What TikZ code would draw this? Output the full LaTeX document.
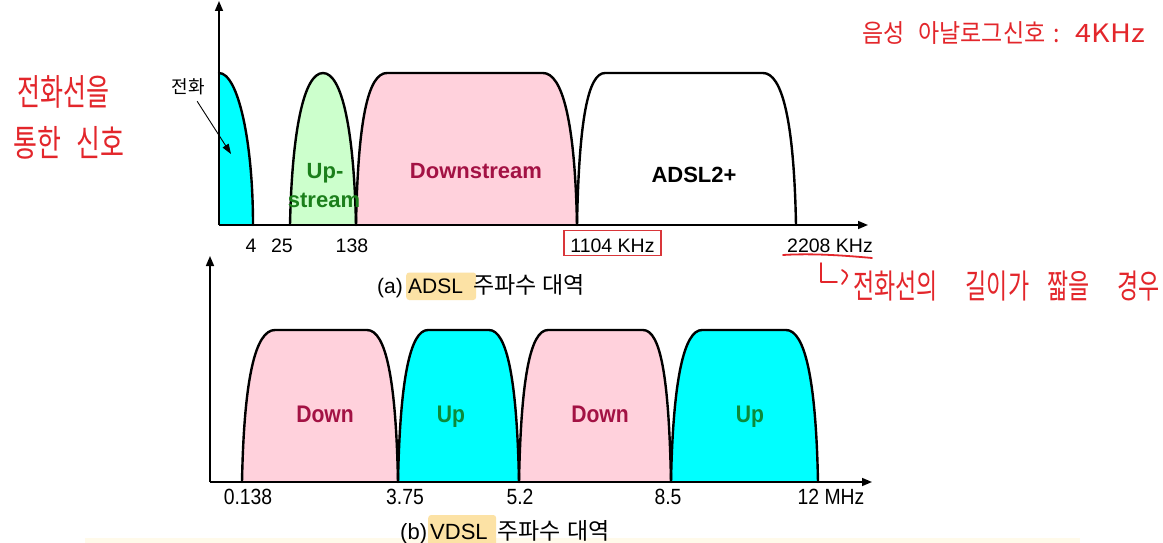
\documentclass[tikz,border=0pt]{standalone}
\usepackage{fontspec}
\setmainfont{Liberation Sans}
\newfontfamily\kr{Noto Sans CJK KR}
\newfontfamily\narrow[FakeStretch=0.88]{Liberation Sans}
\usetikzlibrary{arrows.meta}
\definecolor{cyanf}{HTML}{00FFFF}
\definecolor{greenf}{HTML}{CCFFCC}
\definecolor{pinkf}{HTML}{FFD1DC}
\definecolor{downc}{HTML}{A31244}
\definecolor{upc}{HTML}{1B7F1B}
\definecolor{upcb}{HTML}{0C8A3A}
\definecolor{hl}{HTML}{FCE2A5}
\definecolor{boxred}{HTML}{D9363A}
\definecolor{pen}{HTML}{E3262B}
\definecolor{paleband}{HTML}{FFFAEA}
\begin{document}
\begin{tikzpicture}[x=1pt,y=-1pt,
  axis/.style={line width=1.6pt,-{Triangle[length=10pt,width=8pt]}},
  bandline/.style={line width=2.4pt,line join=round,line cap=round},
  toplbl/.style={font=\fontsize{19.5}{21}\selectfont,inner sep=0pt,anchor=base},
  botlbl/.style={font=\narrow\fontsize{22}{24}\selectfont,inner sep=0pt,anchor=base},
  downtxt/.style={font=\bfseries\fontsize{22}{24}\selectfont,text=downc,inner sep=0pt,anchor=base},
  uptxt/.style={font=\bfseries\fontsize{22}{24}\selectfont,text=upc,inner sep=0pt,anchor=base},
  bdowntxt/.style={font=\narrow\bfseries\fontsize{24}{26}\selectfont,text=downc,inner sep=0pt,anchor=base},
  buptxt/.style={font=\narrow\bfseries\fontsize{24}{26}\selectfont,text=upcb,inner sep=0pt,anchor=base},
  captxt/.style={font=\fontsize{21}{23}\selectfont,inner sep=0pt,anchor=base west},
  capkr/.style={font=\kr\fontsize{23}{25}\selectfont,inner sep=0pt,anchor=base west},
  hlbox/.style={fill=hl,rounded corners=3pt,inner xsep=2pt,inner ysep=0pt,anchor=base west},
  pentxt/.style={text=pen,inner sep=0pt},
  penline/.style={draw=pen,line width=1.8pt,line cap=round,line join=round}
]
\useasboundingbox (0,0) rectangle (1163,543);
\fill[white] (0,0) rectangle (1163,543);
\fill[paleband] (85,538) rectangle (1080,543);

% ---------- (a) ADSL ----------
\coordinate (oA) at (219,225);
\coordinate (yA) at (219,1);
\coordinate (xA) at (868,225);

\fill[cyanf] (219,225) -- (219,73) .. controls (238,73) and (253,141) .. (253,225) -- cycle;
\fill[greenf] (290,225) .. controls (292,130) and (304,73) .. (323,73) .. controls (342,73) and (354,130) .. (356,225) -- cycle;
\fill[pinkf] (356,225) .. controls (358,120) and (368,73) .. (387,73) -- (543,73) .. controls (562,73) and (575,120) .. (577,225) -- cycle;
\fill[white] (577,225) .. controls (579,120) and (588,73) .. (605,73) -- (763,73) .. controls (782,73) and (794,120) .. (796,225) -- cycle;

\draw[bandline] (219,73) .. controls (238,73) and (253,141) .. (253,225);
\draw[bandline] (290,225) .. controls (292,130) and (304,73) .. (323,73) .. controls (342,73) and (354,130) .. (356,225);
\draw[bandline] (356,225) .. controls (358,120) and (368,73) .. (387,73) -- (543,73) .. controls (562,73) and (575,120) .. (577,225);
\draw[bandline] (577,225) .. controls (579,120) and (588,73) .. (605,73) -- (763,73) .. controls (782,73) and (794,120) .. (796,225);

\draw[axis] (oA) -- (yA);
\draw[axis] (oA) -- (xA);

\node[uptxt] (ups1) at (325,178) {Up-};
\node[uptxt] (ups2) at (324,207) {stream};
\node[downtxt] (dstr) at (476,178) {Downstream};
\node[font=\bfseries\fontsize{22}{24}\selectfont,inner sep=0pt,anchor=base] (adsl2) at (694,182) {ADSL2+};

\node[font=\kr\fontsize{18}{20}\selectfont,inner sep=0pt] (tel) at (188,87) {전화};
\coordinate (telpt) at (231,154);
\draw[line width=0.9pt,-{Triangle[length=10pt,width=7pt]},shorten <=7pt] (tel) -- (telpt);

\node[toplbl] (f4) at (251,252) {4};
\node[toplbl] (f25) at (282,252) {25};
\node[toplbl] (f138) at (352,252) {138};
\node[toplbl] (f1104) at (612.5,252) {1104 KHz};
\node[draw=boxred,line width=1.7pt,minimum width=97pt,minimum height=25pt,inner sep=0pt] (box1104) at (612.5,243) {};
\node[toplbl] (f2208) at (830,252) {2208 KHz};

\node[captxt] (capa) at (377,293.5) {(a)};
\node[hlbox,text height=21pt,text depth=6.5pt,font=\fontsize{21}{23}\selectfont] (capahl) at (406,293.5) {\makebox[66pt][l]{ADSL}};
\node[capkr] (capak) at (473,293.5) {주파수\kern6pt 대역};

% ---------- (b) VDSL ----------
\coordinate (oB) at (210,482);
\coordinate (yB) at (210,256);
\coordinate (xB) at (872,482);

\fill[pinkf] (242,482) .. controls (244,380) and (255,330) .. (275,330) -- (367,330) .. controls (386,330) and (396,380) .. (398,482) -- cycle;
\fill[cyanf] (398,482) .. controls (400,380) and (410,330) .. (428,330) -- (489,330) .. controls (507,330) and (517,380) .. (519,482) -- cycle;
\fill[pinkf] (519,482) .. controls (521,380) and (530,330) .. (548,330) -- (643,330) .. controls (661,330) and (669,380) .. (671,482) -- cycle;
\fill[cyanf] (671,482) .. controls (673,380) and (684,330) .. (702,330) -- (786,330) .. controls (805,330) and (816,380) .. (818,482) -- cycle;

\draw[bandline] (242,482) .. controls (244,380) and (255,330) .. (275,330) -- (367,330) .. controls (386,330) and (396,380) .. (398,482);
\draw[bandline] (398,482) .. controls (400,380) and (410,330) .. (428,330) -- (489,330) .. controls (507,330) and (517,380) .. (519,482);
\draw[bandline] (519,482) .. controls (521,380) and (530,330) .. (548,330) -- (643,330) .. controls (661,330) and (669,380) .. (671,482);
\draw[bandline] (671,482) .. controls (673,380) and (684,330) .. (702,330) -- (786,330) .. controls (805,330) and (816,380) .. (818,482);

\draw[axis] (oB) -- (yB);
\draw[axis] (oB) -- (xB);

\node[bdowntxt] (d1) at (325,422) {Down};
\node[buptxt] (u1) at (451,422) {Up};
\node[bdowntxt] (d2) at (600,422) {Down};
\node[buptxt] (u2) at (750,422) {Up};

\node[botlbl] (g0) at (248,504) {0.138};
\node[botlbl] (g1) at (405,504) {3.75};
\node[botlbl] (g2) at (520,504) {5.2};
\node[botlbl] (g3) at (668,504) {8.5};
\node[botlbl] (g4) at (831,504) {12 MHz};

\node[captxt,font=\fontsize{22}{24}\selectfont] (capb) at (400,539) {(b)};
\node[hlbox,text height=24pt,text depth=8pt,font=\fontsize{22}{24}\selectfont] (capbhl) at (428,539) {\makebox[64pt][l]{VDSL}};
\node[capkr] (capbk) at (497,539) {주파수\kern7pt 대역};

% ---------- handwritten notes ----------
\node[pentxt,font=\kr\fontsize{25}{27}\selectfont] (n1) at (63,92) {\scalebox{1}[1.45]{전화선을}};
\node[pentxt,font=\kr\fontsize{26}{28}\selectfont] (n2) at (69,143) {\scalebox{1}[1.4]{통한\kern16pt 신호}};
\node[pentxt,font=\kr\fontsize{23}{25}\selectfont,anchor=west] (n3) at (862,33) {\scalebox{1}[1.1]{음성\kern14pt 아날로그신호\kern8pt :\kern16pt \scalebox{1.25}[1]{4KHz}}};
\draw[penline] (783,255) .. controls (815,253) and (850,256) .. (872,258);
\draw[penline] (821,263) -- (821,282) -- (837,282);
\draw[penline] (842,270) .. controls (849,275) .. (842,284);
\node[pentxt,font=\kr\fontsize{23}{25}\selectfont,anchor=west] (n4) at (853,286) {\scalebox{1}[1.45]{전화선의\kern28pt 길이가\kern18pt 짧을\kern28pt 경우}};
\end{tikzpicture}
\end{document}
